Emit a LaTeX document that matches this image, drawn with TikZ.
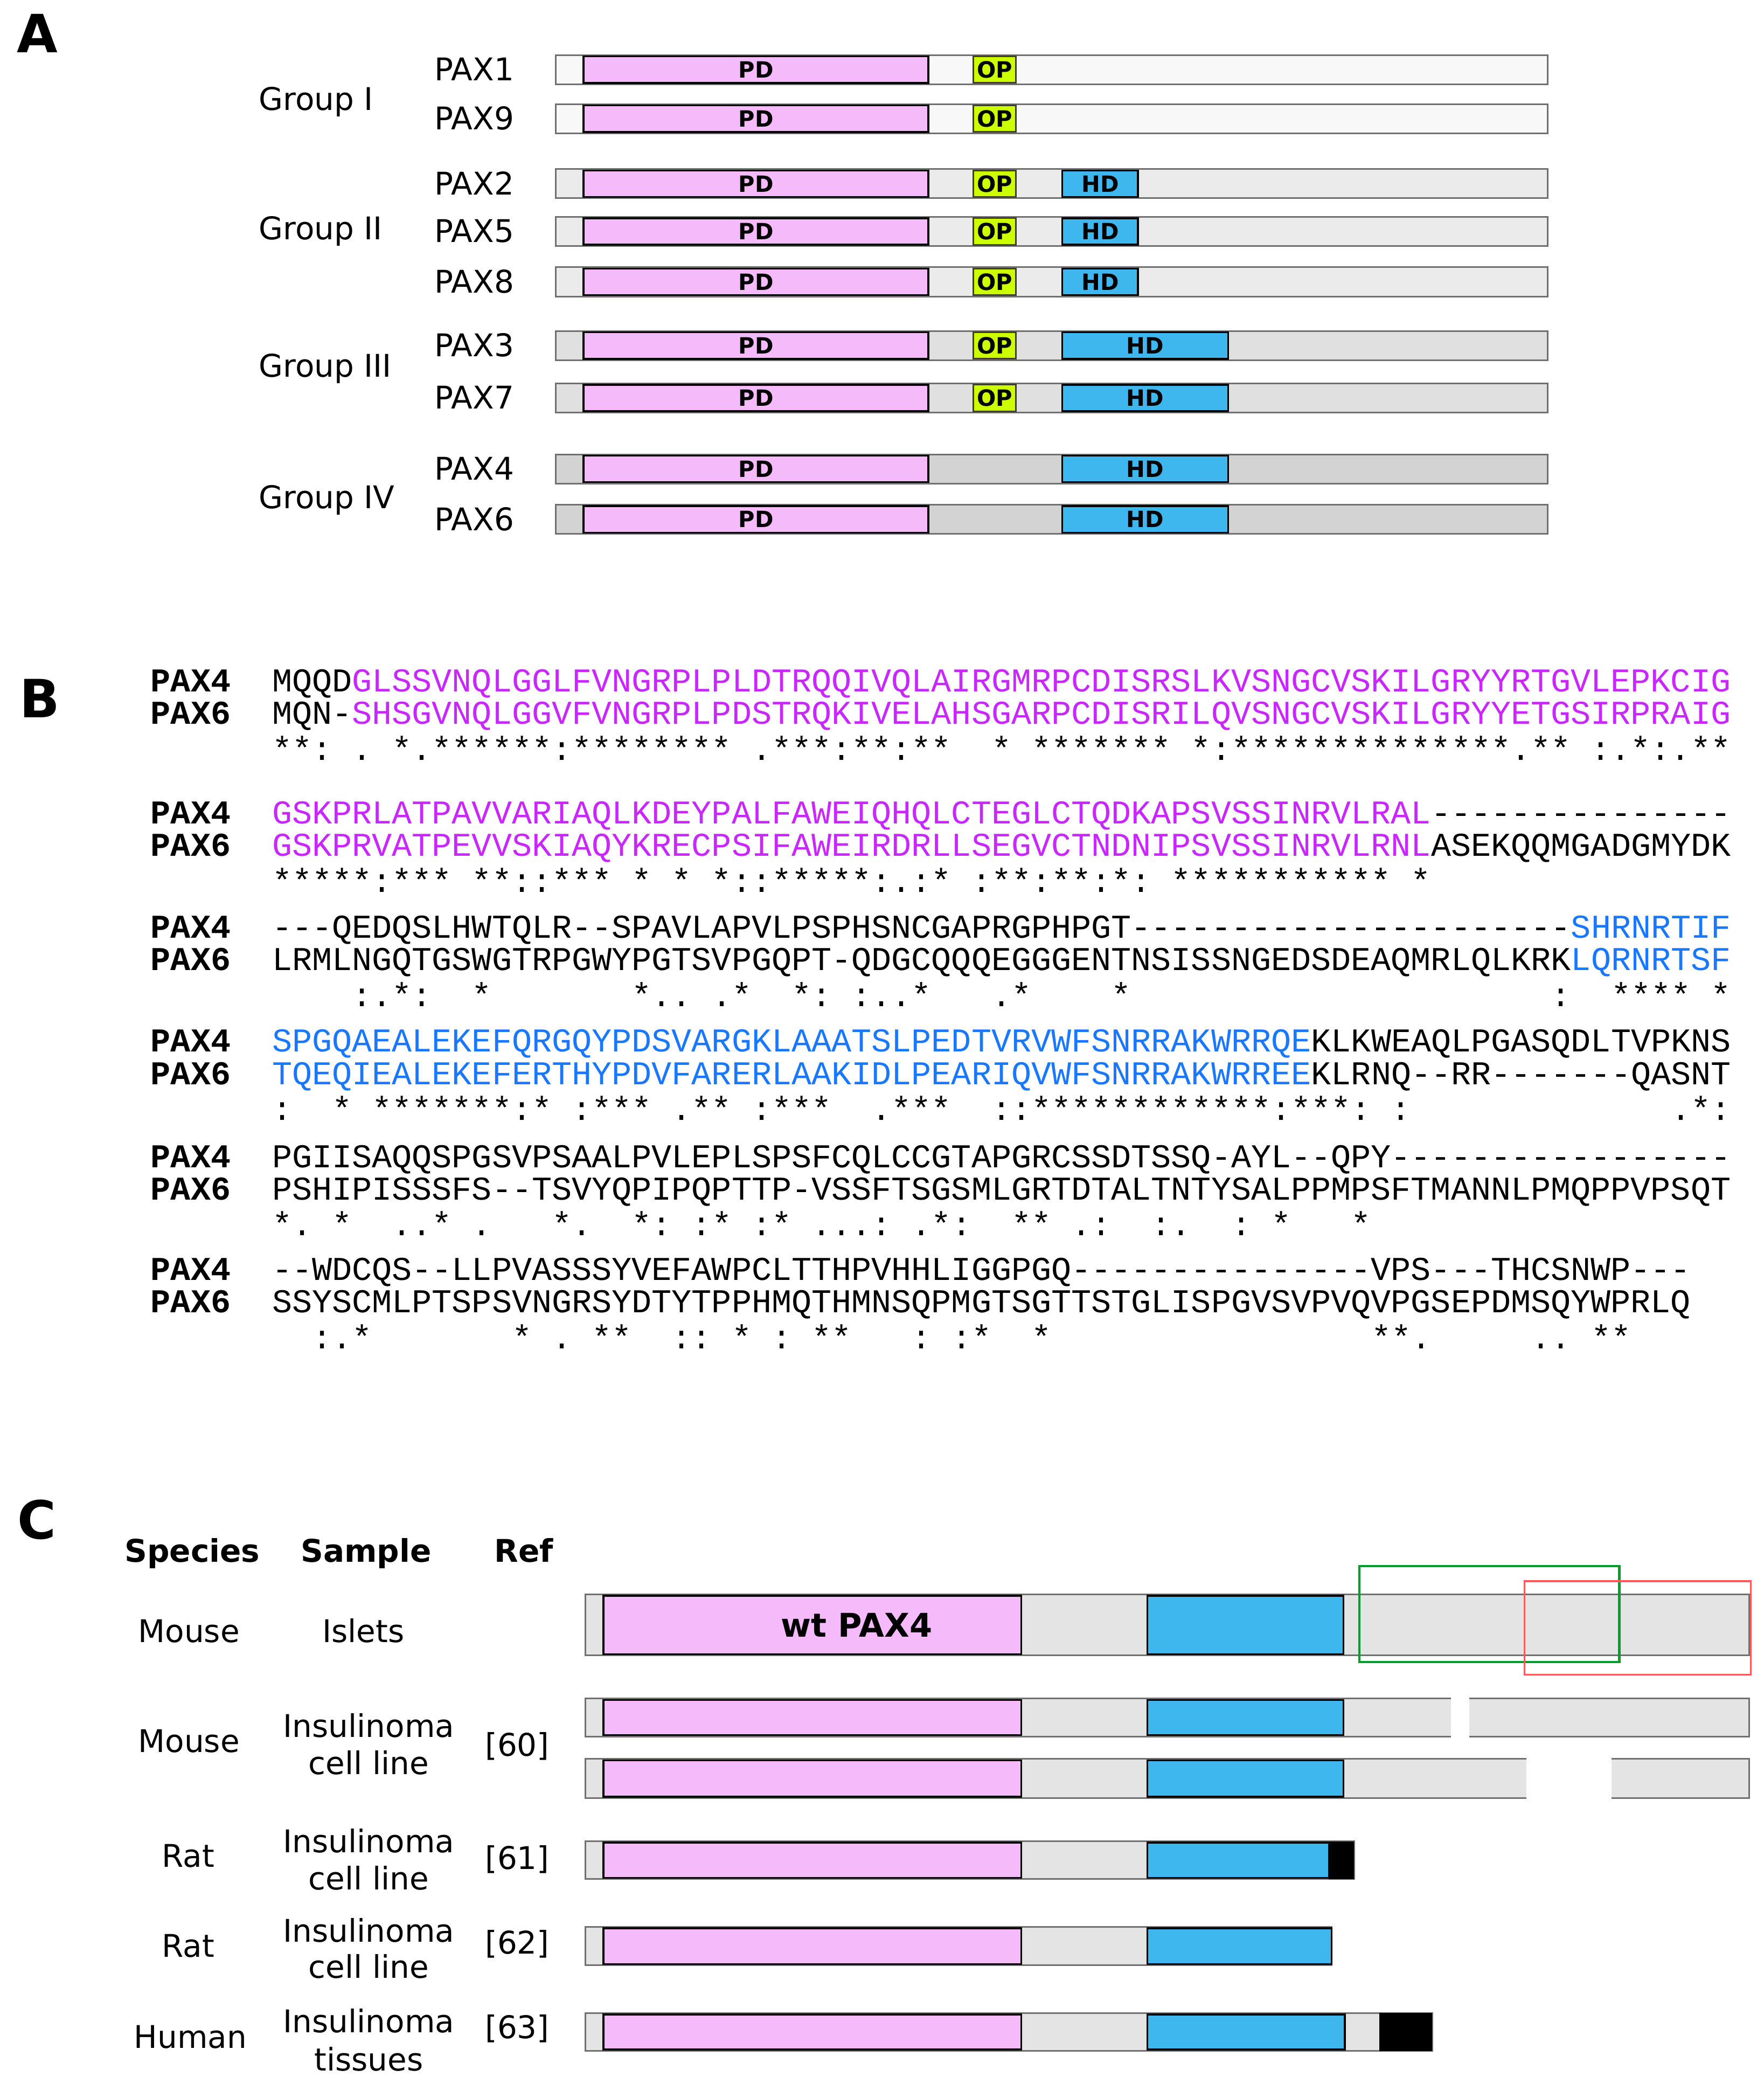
\documentclass[tikz,border=0pt]{standalone}
\usepackage{fontspec}
\setmainfont{DejaVu Sans}
\setmonofont{Liberation Mono}
\usepackage{xcolor}
\definecolor{pdpink}{RGB}{245,186,250}
\definecolor{hdblue}{RGB}{62,182,238}
\definecolor{opgreen}{RGB}{204,255,0}
\definecolor{grpone}{RGB}{248,248,248}
\definecolor{grptwo}{RGB}{235,235,235}
\definecolor{grpthree}{RGB}{224,224,224}
\definecolor{grpfour}{RGB}{211,211,211}
\definecolor{barfill}{RGB}{228,228,228}
\definecolor{barline}{RGB}{112,112,112}
\definecolor{pdtext}{RGB}{200,40,255}
\definecolor{hdtext}{RGB}{25,120,255}
\definecolor{boxgreen}{RGB}{0,160,40}
\definecolor{boxred}{RGB}{250,90,90}
\newcommand{\pdseq}[1]{\textcolor{pdtext}{#1}}
\newcommand{\hdseq}[1]{\textcolor{hdtext}{#1}}

\tikzset{
  bar/.style={draw=barline,line width=0.35pt},
  pdbox/.style={fill=pdpink,draw=black,line width=0.4pt},
  opbox/.style={fill=opgreen,draw=black!70!olive,line width=0.35pt},
  hdbox/.style={fill=hdblue,draw=black,line width=0.4pt},
  dom/.style={font=\fontsize{4.8}{5}\selectfont\bfseries,inner sep=0pt},
  lab/.style={font=\fontsize{6.7}{8}\selectfont,inner sep=0pt},
  panel/.style={font=\fontsize{11.3}{13}\selectfont\bfseries,inner sep=0pt,anchor=base west},
  seqlab/.style={font=\fontsize{7.14}{8}\selectfont\ttfamily\bfseries,inner sep=0pt,anchor=base west},
  seq/.style={font=\fontsize{7.14}{8}\selectfont\ttfamily,inner sep=0pt,anchor=base west},
  chead/.style={font=\fontsize{6.7}{8}\selectfont\bfseries,inner sep=0pt,anchor=base},
  clab/.style={lab,anchor=base}
}

\begin{document}
\begin{tikzpicture}[x=0.01cm,y=-0.01cm]
\useasboundingbox (0,0) rectangle (1330,1571);

% panel A
\node[panel] (A) at (12,39.8) {A};
\foreach \name/\yc/\grp/\op/\hd in {PAX1/52.5/grpone/1/0, PAX9/89.5/grpone/1/0,
    PAX2/138.5/grptwo/1/858, PAX5/174.5/grptwo/1/858, PAX8/212.5/grptwo/1/858,
    PAX3/260.5/grpthree/1/926, PAX7/300/grpthree/1/926,
    PAX4/353.5/grpfour/0/926, PAX6/391.5/grpfour/0/926}
{
    \draw[bar,fill=\grp] (419,\yc-11) rectangle (1167,\yc+11);
    \draw[pdbox] (440,\yc-10) rectangle (700,\yc+10);
    \node[dom] (pd-\name) at (570,\yc) {PD};
    \ifnum\op=1
      \draw[opbox] (734,\yc-10) rectangle (766,\yc+10);
      \node[dom] (op-\name) at (750,\yc) {OP};
    \fi
    \ifnum\hd>0
      \draw[hdbox] (801,\yc-10) rectangle (\hd,\yc+10);
      \node[dom] (hd-\name) at ({(801+\hd)/2},\yc) {HD};
    \fi
    \node[lab,anchor=base west] (n-\name) at (327,\yc+8.3) {\name};
}
\begin{scope}[every node/.style={lab,anchor=base west}]
    \node (g1) at (194.5,83.2) {Group I};
    \node (g2) at (194.5,180.5) {Group II};
    \node (g3) at (194.5,284.1) {Group III};
    \node (g4) at (194.5,383.2) {Group IV};
\end{scope}

% panel B
\node[panel] (B) at (14,541) {B};
\foreach \blk/\yb in {1/521.5,2/621,3/707,4/793,5/880,6/965}
{
    \node[seqlab] (a4-\blk) at (113,\yb) {PAX4};
    \node[seqlab] (a6-\blk) at (113,\yb+24.5) {PAX6};
}
\begin{scope}[every node/.style={seq}]
    \node (s4-1) at (204.5,521.5) {MQQD\pdseq{GLSSVNQLGGLFVNGRPLPLDTRQQIVQLAIRGMRPCDISRSLKVSNGCVSKILGRYYRTGVLEPKCIG}};
    \node (s6-1) at (204.5,546) {MQN-\pdseq{SHSGVNQLGGVFVNGRPLPDSTRQKIVELAHSGARPCDISRILQVSNGCVSKILGRYYETGSIRPRAIG}};
    \node (c-1) at (204.5,573) {**:~.~*.******:********~.***:**:**~~*~*******~*:**************.**~:.*:.**};

    \node (s4-2) at (204.5,621) {\pdseq{GSKPRLATPAVVARIAQLKDEYPALFAWEIQHQLCTEGLCTQDKAPSVSSINRVLRAL}---------------};
    \node (s6-2) at (204.5,645.5) {\pdseq{GSKPRVATPEVVSKIAQYKRECPSIFAWEIRDRLLSEGVCTNDNIPSVSSINRVLRNL}ASEKQQMGADGMYDK};
    \node (c-2) at (204.5,672.5) {*****:***~**::***~*~*~*::*****:.:*~:**:**:*:~***********~*};

    \node (s4-3) at (204.5,707) {---QEDQSLHWTQLR--SPAVLAPVLPSPHSNCGAPRGPHPGT----------------------\hdseq{SHRNRTIF}};
    \node (s6-3) at (204.5,731.5) {LRMLNGQTGSWGTRPGWYPGTSVPGQPT-QDGCQQQEGGGENTNSISSNGEDSDEAQMRLQLKRK\hdseq{LQRNRTSF}};
    \node (c-3) at (204.5,758.5) {~~~~:.*:~~*~~~~~~~*..~.*~~*:~:..*~~~.*~~~~*~~~~~~~~~~~~~~~~~~~~~:~~****~*};

    \node (s4-4) at (204.5,793) {\hdseq{SPGQAEALEKEFQRGQYPDSVARGKLAAATSLPEDTVRVWFSNRRAKWRRQE}KLKWEAQLPGASQDLTVPKNS};
    \node (s6-4) at (204.5,817.5) {\hdseq{TQEQIEALEKEFERTHYPDVFARERLAAKIDLPEARIQVWFSNRRAKWRREE}KLRNQ--RR-------QASNT};
    \node (c-4) at (204.5,844.5) {:~~*~*******:*~:***~.**~:***~~.***~~::************:***:~:~~~~~~~~~~~~~.*:};

    \node (s4-5) at (204.5,880) {PGIISAQQSPGSVPSAALPVLEPLSPSFCQLCCGTAPGRCSSDTSSQ-AYL--QPY-----------------};
    \node (s6-5) at (204.5,904.5) {PSHIPISSSFS--TSVYQPIPQPTTP-VSSFTSGSMLGRTDTALTNTYSALPPMPSFTMANNLPMQPPVPSQT};
    \node (c-5) at (204.5,931.5) {*.~*~~..*~.~~~*.~~*:~:*~:*~...:~.*:~~**~.:~~:.~~:~*~~~*};

    \node (s4-6) at (204.5,965) {--WDCQS--LLPVASSSYVEFAWPCLTTHPVHHLIGGPGQ---------------VPS---THCSNWP---};
    \node (s6-6) at (204.5,989.5) {SSYSCMLPTSPSVNGRSYDTYTPPHMQTHMNSQPMGTSGTTSTGLISPGVSVPVQVPGSEPDMSQYWPRLQ};
    \node (c-6) at (204.5,1016.5) {~~:.*~~~~~~~*~.~**~~::~*~:~**~~~:~:*~~*~~~~~~~~~~~~~~~~**.~~~~~..~**};
\end{scope}

% panel C
\node[panel] (C) at (12.7,1160) {C};
\node[chead] (hspec) at (145,1177.7) {Species};
\node[chead] (hsamp) at (276,1177.7) {Sample};
\node[chead] (href) at (395,1177.7) {Ref};
\begin{scope}[every node/.style={clab}]
    \node (sp1) at (142.5,1238) {Mouse};
    \node (sa1) at (274,1238) {Islets};
    \node (sp2) at (142.5,1320.8) {Mouse};
    \node (sa2) at (278,1309.5) {Insulinoma};
    \node (sb2) at (278,1337.7) {cell line};
    \node (rf2) at (390,1323.6) {[60]};
    \node (sp3) at (142,1407.6) {Rat};
    \node (sa3) at (278,1396.4) {Insulinoma};
    \node (sb3) at (278,1424.7) {cell line};
    \node (rf3) at (390,1409) {[61]};
    \node (sp4) at (142,1475.2) {Rat};
    \node (sa4) at (278,1463.9) {Insulinoma};
    \node (sb4) at (278,1491.2) {cell line};
    \node (rf4) at (390,1472.9) {[62]};
    \node (sp5) at (143.5,1544.1) {Human};
    \node (sa5) at (278,1532) {Insulinoma};
    \node (sb5) at (278,1561) {tissues};
    \node (rf5) at (390,1536.8) {[63]};
\end{scope}

\draw[bar,fill=barfill] (441.5,1202) rectangle (1319,1248);
\fill[barfill] (441.5,1280.5) rectangle (1094,1309);
\draw[bar] (1094,1280.5) -| (441.5,1309) -- (1094,1309);
\fill[barfill] (1108,1280.5) rectangle (1319,1309);
\draw[bar] (1108,1280.5) -| (1319,1309) -- (1108,1309);
\fill[barfill] (441.5,1326) rectangle (1151,1355.5);
\draw[bar] (1151,1326) -| (441.5,1355.5) -- (1151,1355.5);
\fill[barfill] (1215,1326) rectangle (1319,1355.5);
\draw[bar] (1215,1326) -| (1319,1355.5) -- (1215,1355.5);
\draw[bar,fill=barfill] (441.5,1388) rectangle (1021,1416.5);
\draw[bar,fill=barfill] (441.5,1452.5) rectangle (1004,1481.5);
\draw[bar,fill=barfill] (441.5,1517.5) rectangle (1080,1546);
\foreach \ya/\yb/\he in {1202/1248/1013, 1280.5/1309/1013, 1326/1355.5/1013,
    1388/1416.5/1002, 1452.5/1481.5/1004, 1517.5/1546/1014}
{
    \draw[pdbox] (455,\ya+1) rectangle (770,\yb-1);
    \draw[hdbox] (865,\ya+1) rectangle (\he,\yb-1);
}
\fill[black] (1002,1388) rectangle (1021,1416.5);
\fill[black] (1040,1517.5) rectangle (1080,1546);
\node[font=\fontsize{7}{8}\selectfont\bfseries,inner sep=0pt] (wt) at (646,1225) {wt PAX4};
\draw[boxgreen,line width=0.5pt] (1025,1180.5) rectangle (1221,1253);
\draw[boxred,line width=0.4pt] (1149.5,1192) rectangle (1320,1262.5);
\end{tikzpicture}
\end{document}
